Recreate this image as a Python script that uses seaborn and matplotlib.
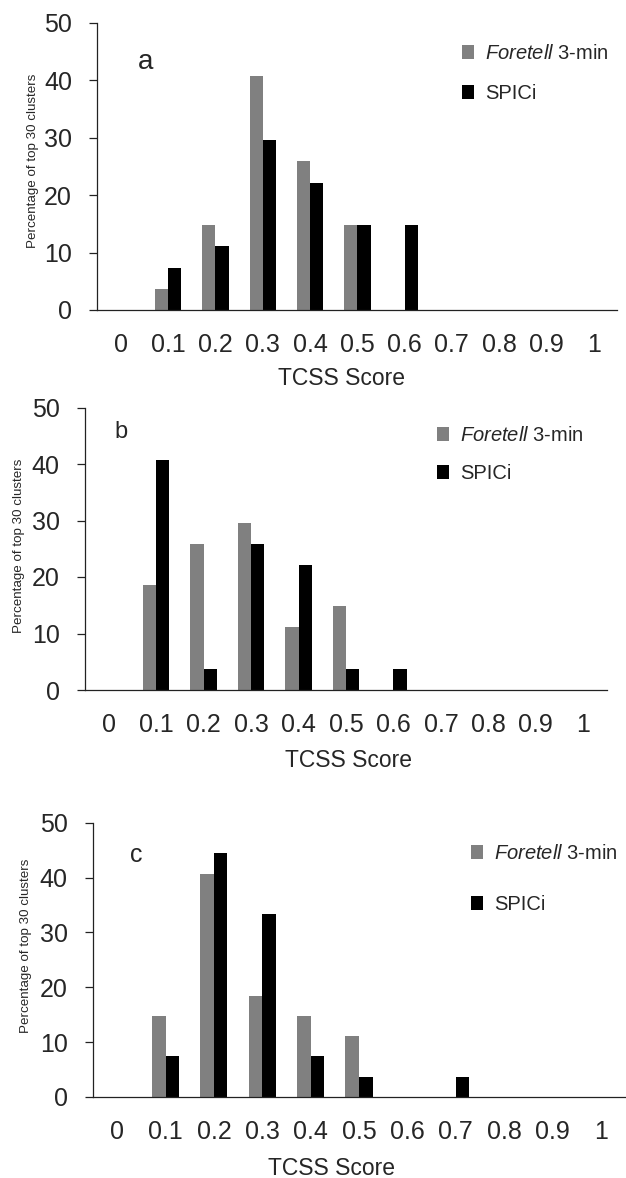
import matplotlib
matplotlib.use("Agg")
import matplotlib.pyplot as plt
from matplotlib import font_manager
import numpy as np
import pandas as pd
import seaborn as sns

# ---------------- data ----------------
scores = ["0", "0.1", "0.2", "0.3", "0.4", "0.5", "0.6", "0.7", "0.8", "0.9", "1"]
series_names = ["Foretell 3-min", "SPICi"]
panel_labels = ["a", "b", "c"]

foretell_a = [0, 3.7, 14.8, 40.7, 25.9, 14.8, 0, 0, 0, 0, 0]
spici_a = [0, 7.4, 11.1, 29.6, 22.2, 14.8, 14.8, 0, 0, 0, 0]
foretell_b = [0, 18.5, 25.9, 29.6, 11.1, 14.8, 0, 0, 0, 0, 0]
spici_b = [0, 40.7, 3.7, 25.9, 22.2, 3.7, 3.7, 0, 0, 0, 0]
foretell_c = [0, 14.8, 40.7, 18.5, 14.8, 11.1, 0, 0, 0, 0, 0]
spici_c = [0, 7.4, 44.4, 33.3, 7.4, 3.7, 0, 3.7, 0, 0, 0]

y_ticks = [0, 10, 20, 30, 40, 50]
x_label = "TCSS Score"
y_label = "Percentage of top 30 clusters"

# ---------------- style ----------------
sns.set_theme(style="white")
names = {f.name for f in font_manager.fontManager.ttflist}
HAS_NARROW = "Liberation Sans Narrow" in names
NARROW = "Liberation Sans Narrow" if HAS_NARROW else "Liberation Sans"
TICK_FS = 19 if HAS_NARROW else 18
LEG_FS = 16.5 if HAS_NARROW else 14.5
plt.rcParams["font.family"] = ["Liberation Sans", "DejaVu Sans"]
plt.rcParams["mathtext.fontset"] = "custom"
plt.rcParams["mathtext.it"] = NARROW + ":italic"
plt.rcParams["mathtext.rm"] = NARROW
plt.rcParams["mathtext.bf"] = NARROW + ":bold"

GRAY = "#808080"
BLACK = "#000000"
AXC = "#222222"

W, H = 626, 1178
fig = plt.figure(figsize=(W / 100, H / 100), dpi=100)

# layout in pixels: left, right, top(y=50), bottom(y=0)
layouts = [
    dict(l=97.3, r=617.3, t=23.0, b=310.0, lab=(0.53, 43.2, 20), leg=(0.701, 0.928, 1.05),
         xl=(0.469, -0.237), yl=(-0.124, 0.52)),
    dict(l=85.0, r=607.0, t=407.5, b=690.0, lab=(0.26, 45.7, 17), leg=(0.674, 0.935, 0.95),
         xl=(0.504, -0.248), yl=(-0.126, 0.51)),
    dict(l=93.0, r=625.0, t=822.7, b=1097.0, lab=(0.39, 44.1, 18), leg=(0.710, 0.922, 1.6),
         xl=(0.449, -0.259), yl=(-0.126, 0.55)),
]
data = [(foretell_a, spici_a), (foretell_b, spici_b), (foretell_c, spici_c)]

for (fv, sv), lay, plab in zip(data, layouts, panel_labels):
    ax = fig.add_axes([lay["l"] / W, 1 - lay["b"] / H,
                       (lay["r"] - lay["l"]) / W, (lay["b"] - lay["t"]) / H])
    df = pd.DataFrame({
        "score": scores * 2,
        "pct": list(fv) + list(sv),
        "method": [series_names[0]] * len(scores) + [series_names[1]] * len(scores),
    })
    sns.barplot(data=df, x="score", y="pct", hue="method", order=scores,
                hue_order=series_names, palette=[GRAY, BLACK], saturation=1,
                width=0.56, errorbar=None, ax=ax, linewidth=0)
    ax.set_xlim(-0.5, len(scores) - 0.5)
    ax.set_ylim(0, 50)
    ax.set_yticks(y_ticks)
    ax.set_yticklabels([str(v) for v in y_ticks], family=NARROW, fontsize=TICK_FS)
    ax.set_xticks(range(len(scores)))
    ax.set_xticklabels(scores, family=NARROW, fontsize=TICK_FS)
    ax.set_xticks(np.arange(-0.5, len(scores), 1.0), minor=True)
    ax.tick_params(axis="x", which="major", length=0, pad=16.5)
    ax.tick_params(axis="x", which="minor", length=5.2, width=0.9, color=AXC, direction="out")
    ax.tick_params(axis="y", which="major", length=5.8, width=0.9, color=AXC,
                   direction="out", pad=12.5, left=True)
    for s in ["top", "right"]:
        ax.spines[s].set_visible(False)
    for s in ["left", "bottom"]:
        ax.spines[s].set_color(AXC)
        ax.spines[s].set_linewidth(0.9)
    ax.spines["left"].set_bounds(0, 50)

    ax.set_xlabel(x_label, fontsize=16.5, family="Liberation Sans")
    ax.xaxis.label.set_va("center")
    ax.xaxis.set_label_coords(*lay["xl"])
    ax.set_ylabel(y_label, fontsize=9.6, family="Liberation Sans")
    ax.yaxis.label.set_va("center")
    ax.yaxis.set_label_coords(*lay["yl"])

    lx, ly, lfs = lay["lab"]
    ax.text(lx, ly, plab, fontsize=lfs, family="Liberation Sans", ha="center", va="center")

    handles, _ = ax.get_legend_handles_labels()
    legx, legy, lsp = lay["leg"]
    ax.legend(handles, [r"$\mathit{Foretell}$ 3-min", "SPICi"], loc="upper left",
              bbox_to_anchor=(legx, legy), frameon=False, borderpad=0, borderaxespad=0,
              handlelength=0.62, handleheight=0.7, handletextpad=0.55,
              labelspacing=lsp, prop={"family": NARROW, "size": LEG_FS})

fig.savefig("out.png", dpi=100)
